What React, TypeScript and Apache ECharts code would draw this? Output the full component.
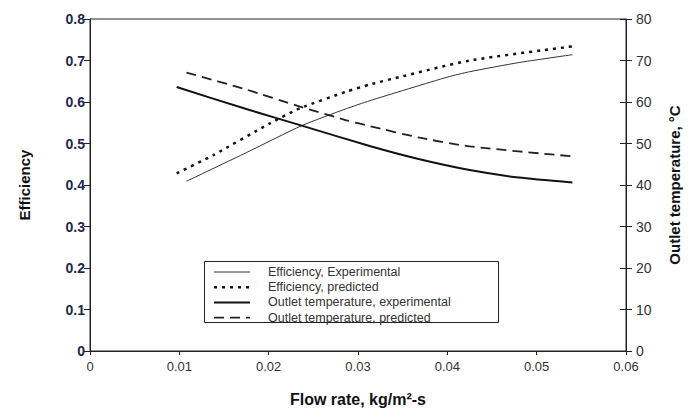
import React, { useEffect, useRef } from "react";
import * as echarts from "echarts";

const effExperimental: [number, number][] = [
  [0.0108, 0.409], [0.0175, 0.478], [0.0237, 0.543], [0.0287, 0.584], [0.0313, 0.603],
  [0.04, 0.66], [0.0425, 0.673], [0.048, 0.695], [0.054, 0.714],
];
const effPredicted: [number, number][] = [
  [0.0097, 0.428], [0.0138, 0.472], [0.0201, 0.548], [0.0235, 0.585], [0.0287, 0.625],
  [0.0313, 0.642], [0.035, 0.662], [0.0425, 0.700], [0.054, 0.734],
];
const tempExperimental: [number, number][] = [
  [0.0097, 63.6], [0.0175, 58.3], [0.0237, 54.3], [0.0313, 49.4], [0.0369, 46.2],
  [0.0425, 43.6], [0.048, 41.8], [0.054, 40.6],
];
const tempPredicted: [number, number][] = [
  [0.0108, 67.1], [0.0175, 63.0], [0.0235, 58.9], [0.0287, 55.6], [0.0313, 54.2],
  [0.0369, 51.4], [0.0425, 49.3], [0.054, 46.9],
];
const legendNames = [
  "Efficiency, Experimental",
  "Efficiency, predicted",
  "Outlet temperature, experimental",
  "Outlet temperature, predicted",
];

const FONT = "Liberation Sans, Arial, sans-serif";

export default function App() {
  const ref = useRef<HTMLDivElement>(null);
  useEffect(() => {
    if (!ref.current) return;
    const chart = echarts.init(ref.current, undefined, { renderer: "svg" });
    const lineStyles: any[] = [
      { color: "#333", width: 1, type: "solid" },
      { color: "#111", width: 2.5, type: [3, 5] },
      { color: "#111", width: 2, type: "solid" },
      { color: "#222", width: 1.8, type: [10, 6] },
    ];
    const legendTop = 272;
    const legendGap = 15.2;
    const legendGraphics: any[] = [
      {
        type: "rect",
        shape: { x: 204.5, y: 261.5, width: 294, height: 61 },
        style: { fill: "#fff", stroke: "#222", lineWidth: 1 },
        z: 100,
      },
    ];
    legendNames.forEach((name, i) => {
      const y = legendTop + i * legendGap;
      legendGraphics.push({
        type: "line",
        shape: { x1: 214, y1: y, x2: 250, y2: y },
        style: {
          stroke: lineStyles[i].color,
          lineWidth: lineStyles[i].width,
          lineDash: Array.isArray(lineStyles[i].type) ? lineStyles[i].type : null,
        },
        z: 101,
      });
      legendGraphics.push({
        type: "text",
        x: 268,
        y: y,
        style: {
          text: name,
          fill: "#333",
          font: `12.5px ${FONT}`,
          verticalAlign: "middle",
        },
        z: 101,
      });
    });

    const seriesBase = {
      type: "line",
      smooth: 0.2,
      symbol: "none",
    };

    chart.setOption({
      animation: false,
      backgroundColor: "#fff",
      grid: {
        left: 90,
        right: 63,
        top: 19,
        bottom: 60,
        show: true,
        borderColor: "#222",
        borderWidth: 1,
      },
      xAxis: {
        type: "value",
        min: 0,
        max: 0.06,
        interval: 0.01,
        name: "Flow rate, kg/m²-s",
        nameLocation: "middle",
        nameGap: 40,
        nameTextStyle: { fontFamily: FONT, fontSize: 16, fontWeight: "bold", color: "#111" },
        axisLine: { lineStyle: { color: "#222", width: 1 } },
        axisTick: { show: true, inside: false, length: 4, lineStyle: { color: "#222" } },
        axisLabel: {
          fontFamily: FONT,
          fontSize: 13,
          color: "#333",
          margin: 9,
          formatter: (v: number) => (v === 0 ? "0" : v.toFixed(2)),
        },
        splitLine: { show: false },
      },
      yAxis: [
        {
          type: "value",
          min: 0,
          max: 0.8,
          interval: 0.1,
          position: "left",
          name: "Efficiency",
          nameLocation: "middle",
          nameGap: 58,
          nameRotate: 90,
          nameTextStyle: { fontFamily: FONT, fontSize: 15, fontWeight: "bold", color: "#111" },
          axisLine: { show: true, lineStyle: { color: "#222", width: 1 } },
          axisTick: { show: true, inside: false, length: 6, lineStyle: { color: "#222" } },
          axisLabel: {
            fontFamily: FONT,
            fontSize: 14,
            fontWeight: "bold",
            color: "#1e2752",
            margin: 5,
            formatter: (v: number) => (v === 0 ? "0" : v.toFixed(1)),
          },
          splitLine: { show: false },
        },
        {
          type: "value",
          min: 0,
          max: 80,
          interval: 10,
          position: "right",
          name: "Outlet temperature, °C",
          nameLocation: "middle",
          nameGap: 41,
          nameRotate: 90,
          nameTextStyle: { fontFamily: FONT, fontSize: 15, fontWeight: "bold", color: "#111" },
          axisLine: { show: true, lineStyle: { color: "#222", width: 1 } },
          axisTick: { show: true, inside: false, length: 6, lineStyle: { color: "#222" } },
          axisLabel: { fontFamily: FONT, fontSize: 14, color: "#333", margin: 10 },
          splitLine: { show: false },
        },
        {
          type: "value",
          min: 0,
          max: 80,
          interval: 10,
          position: "right",
          axisLine: { show: false },
          axisTick: { show: true, inside: true, length: 6, lineStyle: { color: "#222" } },
          axisLabel: { show: false },
          splitLine: { show: false },
        },
      ],
      series: [
        { ...seriesBase, name: legendNames[0], yAxisIndex: 0, data: effExperimental, lineStyle: lineStyles[0] },
        { ...seriesBase, name: legendNames[1], yAxisIndex: 0, data: effPredicted, lineStyle: lineStyles[1] },
        { ...seriesBase, name: legendNames[2], yAxisIndex: 1, data: tempExperimental, lineStyle: lineStyles[2] },
        { ...seriesBase, name: legendNames[3], yAxisIndex: 1, data: tempPredicted, lineStyle: lineStyles[3] },
      ],
      graphic: legendGraphics,
    });
    return () => chart.dispose();
  }, []);
  return <div ref={ref} style={{ width: 690, height: 412, position: "absolute", left: 0, top: 0 }} />;
}
